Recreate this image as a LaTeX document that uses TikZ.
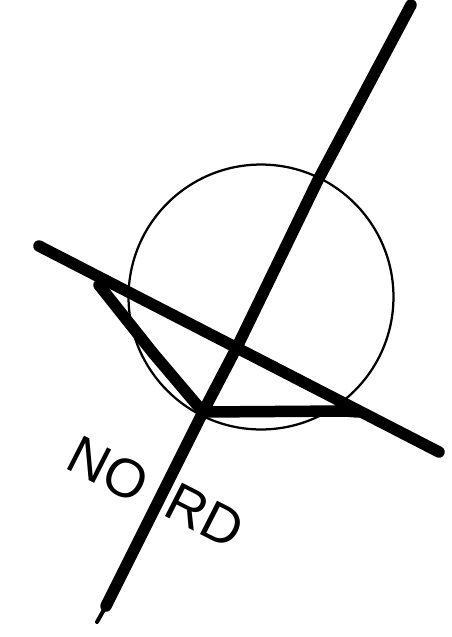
\documentclass[tikz,border=0pt]{standalone}
\usepackage{fontspec}
\setmainfont{Liberation Sans}
\usetikzlibrary{positioning}
\begin{document}
\begin{tikzpicture}[x=0.02cm, y=-0.02cm,
    road/.style={line width=0.23cm, line cap=round, line join=round},
    ramp/.style={line width=0.23cm, line cap=round, line join=round},
    tail/.style={line width=0.08cm, line cap=round},
    ring/.style={draw, circle, line width=0.045cm, minimum size=5.3cm, inner sep=0pt},
    nordtext/.style={font=\fontsize{31}{31}\selectfont, rotate=-27, inner sep=0pt}]
    \useasboundingbox (0,0) rectangle (452,637);
    \node[ring] (circ) at (261,297) {};

    \coordinate (north) at (411,5);
    \coordinate (upper) at (318,180);
    \coordinate (cross) at (238,345);
    \coordinate (south) at (106,606);
    \coordinate (tip) at (97,622);
    \coordinate (west) at (39,246);
    \coordinate (east) at (439,452);
    \coordinate (rampw) at (99,285);
    \coordinate (rampm) at (153,353);
    \coordinate (rampc) at (203,412);
    \coordinate (rampe) at (345,411);
    \coordinate (rampj) at (358,412);

    \draw[road] (north) -- (upper) -- (cross) -- (rampc) -- (south);
    \draw[tail] (south) -- (tip);
    \draw[road] (west) -- (east);
    \draw[ramp] (rampw) -- (rampm) -- (rampc) -- (rampe) -- (rampj);

    \node[nordtext] (no) at (108,469) {NO};
    \node[nordtext] (rd) at (205,516) {RD};
\end{tikzpicture}
\end{document}
